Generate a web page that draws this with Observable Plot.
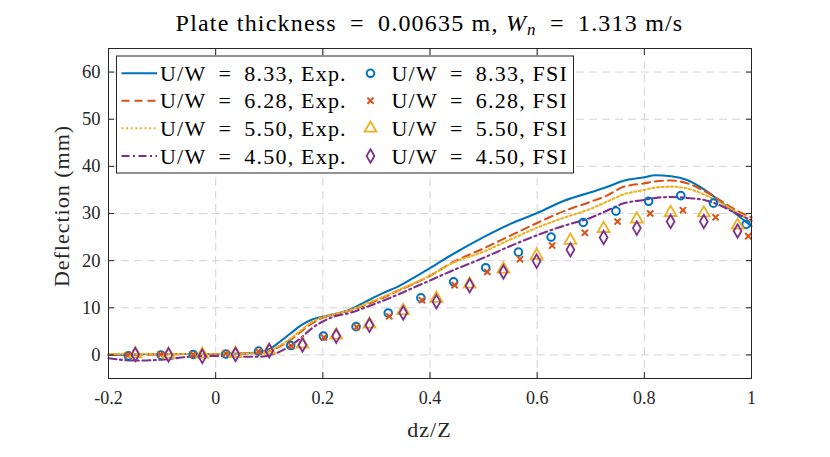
<!DOCTYPE html>
<html>
<head>
<meta charset="utf-8">
<script src="https://cdn.jsdelivr.net/npm/d3@7"></script>
<script src="https://cdn.jsdelivr.net/npm/@observablehq/plot@0.6"></script>
<style>
  body { margin: 0; background: #fff; }
  #chart { width: 830px; height: 457px; }
  #chart svg { display: block; }
</style>
</head>
<body>
<div id="chart"></div>
<script>
// ---------- data ----------
const expX = [-0.2,-0.15,-0.1,-0.05,0,0.05,0.08,0.1,0.12,0.14,0.16,0.18,0.2,0.22,0.25,0.28,0.31,0.34,0.37,0.4,0.44,0.5,0.55,0.6,0.65,0.7,0.73,0.76,0.8,0.82,0.85,0.88,0.91,0.94,0.97,1.0];
const expU833 = [0.0,0.1,0.2,0.2,0.2,0.3,0.5,1.2,2.8,4.6,6.3,7.5,8.1,8.6,9.6,11.3,13.0,14.5,16.4,18.4,21.2,25.0,27.8,30.1,32.7,34.5,35.6,36.9,37.7,38.1,37.9,37.1,35.2,32.7,30.0,27.3];
const expU628 = [0.1,0.1,0.1,0.2,0.2,0.3,0.4,0.8,1.8,3.2,5.0,6.7,7.9,8.5,9.4,10.6,12.0,13.6,15.1,16.8,19.5,22.6,25.3,28.0,30.5,32.5,33.8,35.6,36.4,36.8,37.0,36.4,34.9,32.9,30.8,29.2];
const expU550 = [0.2,0.2,0.2,0.2,0.2,0.3,0.4,0.9,2.0,3.5,5.3,7.0,8.0,8.6,9.5,10.8,12.2,13.7,15.2,16.8,19.4,21.9,24.5,27.0,29.1,31.0,32.5,34.0,35.0,35.5,35.7,35.3,34.1,32.4,30.4,28.3];
const expU450 = [-0.7,-1.2,-1.0,-0.4,-0.2,-0.4,-0.4,-0.1,0.7,2.0,3.7,5.7,7.1,8.1,8.9,10.1,11.4,12.8,14.3,15.8,17.8,20.6,23.1,25.4,27.4,29.1,30.6,32.1,32.9,33.3,33.5,33.3,32.9,31.8,30.1,28.6];

const fsiX833 = [-0.163,-0.102,-0.042,0.019,0.080,0.140,0.201,0.262,0.322,0.383,0.444,0.504,0.565,0.626,0.686,0.747,0.808,0.868,0.929,0.990];
const fsiU833 = [-0.2,0.0,0.1,0.2,0.8,2.0,4.0,6.0,8.9,12.1,15.5,18.5,21.8,25.0,28.1,30.5,32.6,33.8,32.2,27.7];
const fsiX628 = [-0.164,-0.103,-0.042,0.019,0.080,0.141,0.202,0.263,0.324,0.385,0.446,0.507,0.568,0.628,0.689,0.750,0.811,0.872,0.933,0.994];
const fsiU628 = [-0.1,0.1,0.1,0.3,0.7,1.9,3.7,5.9,8.2,11.6,14.8,17.6,20.3,23.2,25.9,28.3,30.0,30.7,29.2,25.2];
const fsiX550 = [-0.150,-0.088,-0.025,0.037,0.100,0.162,0.225,0.287,0.350,0.412,0.474,0.537,0.599,0.662,0.724,0.786,0.849,0.911,0.974];
const fsiU550 = [0.2,0.1,0.1,0.3,1.0,2.3,4.2,6.5,9.4,12.0,15.0,18.2,21.1,24.3,26.8,28.8,30.2,30.1,27.5];
const fsiX450 = [-0.150,-0.088,-0.025,0.037,0.100,0.162,0.225,0.287,0.350,0.412,0.474,0.537,0.599,0.662,0.724,0.786,0.849,0.911,0.974];
const fsiU450 = [0.1,0.0,-0.3,0.1,0.9,2.1,4.0,6.3,8.9,11.3,14.7,17.6,19.9,22.3,24.9,26.9,28.3,28.3,26.3];

const caseLabels = ["U/W\u2002=\u20028.33", "U/W\u2002=\u20026.28", "U/W\u2002=\u20025.50", "U/W\u2002=\u20024.50"];
const xTicks = [-0.2, 0, 0.2, 0.4, 0.6, 0.8, 1];
const xTickLabels = ["-0.2", "0", "0.2", "0.4", "0.6", "0.8", "1"];
const yTicks = [0, 10, 20, 30, 40, 50, 60];
const yTickLabels = ["0", "10", "20", "30", "40", "50", "60"];

(function () {
// ---------- styles ----------
const FONT = "'Liberation Serif', serif";
const INK = "#262626";
const styles = [
  {color: "#0072BD", dash: null,          symbol: "circle",   r: 3.8, sw: 2.0},
  {color: "#D95319", dash: "8,5",         symbol: "times",    r: 2.9, sw: 2.0},
  {color: "#EDB120", dash: "2,2.6",       symbol: "triangle", r: 4.4, sw: 1.8},
  {color: "#7E2F8E", dash: "8,3.5,2,3.5", symbol: "diamond",  r: 4.1, sw: 1.8}
];
const expSeries = [expU833, expU628, expU550, expU450];
const fsiSeries = [[fsiX833, fsiU833], [fsiX628, fsiU628], [fsiX550, fsiU550], [fsiX450, fsiU450]];

const lineMarks = expSeries.map((yv, k) => Plot.line(yv, {
  x: expX, y: yv, stroke: styles[k].color, strokeWidth: 2.1,
  strokeDasharray: styles[k].dash, curve: "monotone-x"
}));
const dotMarks = fsiSeries.map(([xv, yv], k) => Plot.dot(yv, {
  x: xv, y: yv, symbol: styles[k].symbol, r: styles[k].r,
  stroke: styles[k].color, fill: "none", strokeWidth: styles[k].sw
}));

const plot = Plot.plot({
  width: 830, height: 457,
  marginLeft: 108, marginRight: 79, marginTop: 48, marginBottom: 79,
  x: {domain: [-0.2, 1]},
  y: {domain: [-5, 65]},
  style: {fontFamily: FONT, fontSize: "18px", color: INK, background: "#fff", overflow: "visible"},
  marks: [
    Plot.gridX(xTicks, {stroke: "#d4d4d4", strokeOpacity: 1, strokeDasharray: "8,5", strokeWidth: 1}),
    Plot.gridY(yTicks, {stroke: "#d4d4d4", strokeOpacity: 1, strokeDasharray: "8,5", strokeWidth: 1}),
    ...lineMarks,
    ...dotMarks,
    Plot.axisX(xTicks, {anchor: "bottom", tickSize: -6, tickPadding: 19, label: null,
      tickFormat: d => xTickLabels[xTicks.indexOf(d)], fontSize: 18, stroke: INK}),
    Plot.axisX(xTicks, {anchor: "top", tickSize: -6, label: null, tickFormat: () => "", stroke: INK}),
    Plot.axisY(yTicks, {anchor: "left", tickSize: -6, tickPadding: 14, label: null,
      tickFormat: d => yTickLabels[yTicks.indexOf(d)], fontSize: 18.5, stroke: INK}),
    Plot.axisY(yTicks, {anchor: "right", tickSize: -6, label: null, tickFormat: () => "", stroke: INK}),
    Plot.frame({stroke: INK, strokeWidth: 1})
  ]
});
document.getElementById("chart").appendChild(plot);

// ---------- annotations (title, axis labels, legend) ----------
const svg = d3.select(plot);
const sx = plot.scale("x"), sy = plot.scale("y");
const pLeft = sx.range[0], pRight = sx.range[1], pTop = sy.range[1], pBottom = sy.range[0];
const cx = (pLeft + pRight) / 2, cy = (pTop + pBottom) / 2;

const title = svg.append("text")
  .attr("x", cx).attr("y", 31).attr("text-anchor", "middle")
  .attr("font-family", FONT).attr("font-size", 24).attr("fill", "#000")
  .attr("letter-spacing", 1.2);
title.append("tspan").text("Plate thickness\u2002=\u20020.00635 m, ");
title.append("tspan").attr("font-style", "italic").text("W");
title.append("tspan").attr("font-style", "italic").attr("font-size", 17).attr("dy", 4).text("n");
title.append("tspan").attr("dy", -4).text("\u2002=\u20021.313 m/s");

svg.append("text").attr("x", cx).attr("y", 437).attr("text-anchor", "middle")
  .attr("font-family", FONT).attr("font-size", 22).attr("letter-spacing", 1).attr("fill", INK).text("dz/Z");
svg.append("text").attr("transform", `translate(69,${cy - 7}) rotate(-90)`).attr("text-anchor", "middle")
  .attr("font-family", FONT).attr("font-size", 22).attr("letter-spacing", 1).attr("fill", INK).text("Deflection (mm)");

// legend
const lg = svg.append("g").attr("font-family", FONT).attr("font-size", 22).attr("fill", "#000")
  .attr("text-anchor", "start").attr("letter-spacing", 1.2);
lg.append("rect").attr("x", 116.5).attr("y", 56).attr("width", 457).attr("height", 117)
  .attr("fill", "#fff").attr("stroke", INK).attr("stroke-width", 1);
const rowY = [73.3, 100.7, 128.3, 156];
const symMap = {circle: d3.symbolCircle, times: d3.symbolTimes, triangle: d3.symbolTriangle, diamond: d3.symbolDiamond};
styles.forEach((s, k) => {
  const y = rowY[k];
  lg.append("line").attr("x1", 121.5).attr("x2", 157).attr("y1", y).attr("y2", y)
    .attr("stroke", s.color).attr("stroke-width", 2.1).attr("stroke-dasharray", s.dash);
  lg.append("text").attr("x", 160).attr("y", y + 7.5).text(caseLabels[k] + ", Exp.");
  lg.append("path").attr("transform", `translate(370.5,${y})`)
    .attr("d", d3.symbol(symMap[s.symbol], s.r * s.r * Math.PI)())
    .attr("fill", "none").attr("stroke", s.color).attr("stroke-width", s.sw);
  lg.append("text").attr("x", 391.5).attr("y", y + 7.5).text(caseLabels[k] + ", FSI");
});
})();
</script>
</body>
</html>
